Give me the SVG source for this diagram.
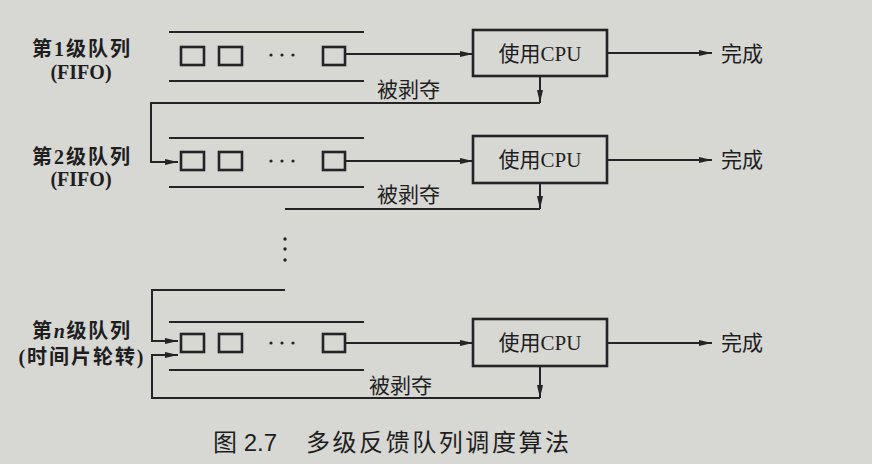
<svg xmlns="http://www.w3.org/2000/svg" width="872" height="464" viewBox="0 0 872 464">
<defs>
<style>
.ln{stroke:#242424;stroke-width:2;fill:none}
.bx{stroke:#242424;stroke-width:2.6;fill:none}
.cpu{stroke:#242424;stroke-width:2.6;fill:none}
.dot{fill:#242424}
.t{font-family:'Liberation Serif','Noto Sans CJK SC',serif;fill:#1e1e1e;font-size:21px}
.lab{font-family:'Liberation Serif','Noto Sans CJK SC',serif;fill:#1e1e1e;font-size:20px;font-weight:bold;text-anchor:middle}
.cap{font-family:'Liberation Sans','Noto Sans CJK SC',sans-serif;fill:#1e1e1e;font-size:24px}
</style>
<marker id="ah" markerUnits="userSpaceOnUse" markerWidth="14" markerHeight="8" refX="13" refY="4" orient="auto">
<path d="M0,1 L13,4 L0,7 Z" fill="#242424"/>
</marker>
</defs>
<rect width="872" height="464" fill="#d7d7d4"/>

<g id="queue1">
<line class="ln" x1="169" y1="32" x2="364" y2="32"/>
<line class="ln" x1="169" y1="81" x2="364" y2="81"/>
<rect class="bx" x="181" y="47" width="23" height="18"/>
<rect class="bx" x="219" y="47" width="23" height="18"/>
<circle class="dot" cx="271" cy="55" r="1.6"/><circle class="dot" cx="282" cy="55" r="1.6"/><circle class="dot" cx="293" cy="55" r="1.6"/>
<rect class="bx" x="323" y="47" width="22" height="18"/>
<text class="lab" x="81" y="56" textLength="98" lengthAdjust="spacing">第1级队列</text>
<text class="lab" x="81" y="79">(FIFO)</text>
</g>
<g id="cpu1">
<rect class="cpu" x="473" y="30" width="134" height="46"/>
<text class="t" x="540" y="61" text-anchor="middle">使用CPU</text>
</g>
<g id="done1"><text class="t" x="721" y="61">完成</text></g>

<g id="queue2">
<line class="ln" x1="169" y1="138" x2="364" y2="138"/>
<line class="ln" x1="169" y1="187" x2="364" y2="187"/>
<rect class="bx" x="181" y="152" width="23" height="18"/>
<rect class="bx" x="219" y="152" width="23" height="18"/>
<circle class="dot" cx="271" cy="161" r="1.6"/><circle class="dot" cx="282" cy="161" r="1.6"/><circle class="dot" cx="293" cy="161" r="1.6"/>
<rect class="bx" x="323" y="152" width="22" height="18"/>
<text class="lab" x="81" y="164" textLength="98" lengthAdjust="spacing">第2级队列</text>
<text class="lab" x="81" y="186">(FIFO)</text>
</g>
<g id="cpu2">
<rect class="cpu" x="473" y="136" width="134" height="47"/>
<text class="t" x="540" y="167" text-anchor="middle">使用CPU</text>
</g>
<g id="done2"><text class="t" x="721" y="167">完成</text></g>

<g id="ellipsis">
<circle class="dot" cx="285" cy="239" r="1.7"/><circle class="dot" cx="285" cy="249" r="1.7"/><circle class="dot" cx="285" cy="260" r="1.7"/>
</g>

<g id="queuen">
<line class="ln" x1="169" y1="322" x2="364" y2="322"/>
<line class="ln" x1="169" y1="370" x2="364" y2="370"/>
<rect class="bx" x="181" y="334" width="23" height="18"/>
<rect class="bx" x="219" y="334" width="23" height="18"/>
<circle class="dot" cx="271" cy="343" r="1.6"/><circle class="dot" cx="282" cy="343" r="1.6"/><circle class="dot" cx="293" cy="343" r="1.6"/>
<rect class="bx" x="323" y="334" width="22" height="18"/>
<text class="lab" x="81" y="338" textLength="98" lengthAdjust="spacing">第<tspan font-style="italic">n</tspan>级队列</text>
<text class="lab" x="81" y="364" textLength="125" lengthAdjust="spacing">(时间片轮转)</text>
</g>
<g id="cpun">
<rect class="cpu" x="473" y="319" width="134" height="47"/>
<text class="t" x="540" y="350" text-anchor="middle">使用CPU</text>
</g>
<g id="donen"><text class="t" x="721" y="350">完成</text></g>

<g id="connectors">
<path class="ln" d="M345,54 H473" marker-end="url(#ah)"/>
<path class="ln" d="M607,53 H712" marker-end="url(#ah)"/>
<path class="ln" d="M540,76 V103" marker-end="url(#ah)"/>
<path class="ln" d="M540,103 H151 V162 H178" marker-end="url(#ah)"/>
<text class="t" x="377" y="97">被剥夺</text>

<path class="ln" d="M345,161 H473" marker-end="url(#ah)"/>
<path class="ln" d="M607,160 H712" marker-end="url(#ah)"/>
<path class="ln" d="M540,183 V209" marker-end="url(#ah)"/>
<path class="ln" d="M540,209 H285"/>
<text class="t" x="377" y="202">被剥夺</text>

<path class="ln" d="M285,290 H152 V341 H178" marker-end="url(#ah)"/>
<path class="ln" d="M345,343 H473" marker-end="url(#ah)"/>
<path class="ln" d="M607,343 H712" marker-end="url(#ah)"/>
<path class="ln" d="M540,366 V398" marker-end="url(#ah)"/>
<path class="ln" d="M540,398 H152 V355 H178" marker-end="url(#ah)"/>
<text class="t" x="369" y="393">被剥夺</text>
</g>

<g id="caption">
<text class="cap" x="213" y="451">图 2.7</text>
<text class="cap" x="306" y="451" textLength="263" lengthAdjust="spacing">多级反馈队列调度算法</text>
</g>
</svg>
